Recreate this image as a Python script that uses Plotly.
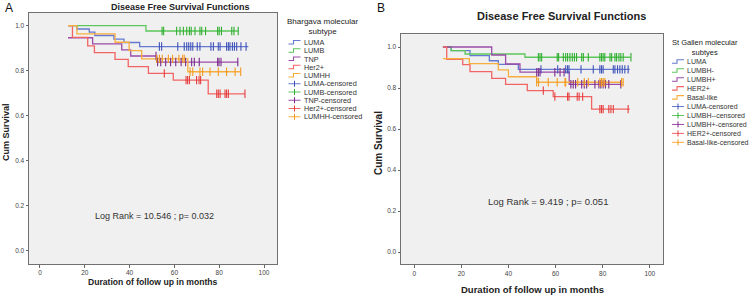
import plotly.graph_objects as go

W, H = 750, 298
FONT = "Liberation Sans, Arial, sans-serif"

# ---------------- Panel A data (Bhargava molecular subtype) ----------------
A_names = ["LUMA", "LUMB", "TNP", "Her2+", "LUMHH"]
A_title = "Bhargava molecular<br>subtype"
A_LUMA_t = [12.5, 16.5, 22.0, 24.5, 33.0, 37.5, 44.5, 93.0]
A_LUMA_s = [1.0, 0.985, 0.971, 0.956, 0.940, 0.925, 0.907, 0.907]
A_LUMA_c = [53.3, 54.3, 61.5, 64.4, 65.5, 66.4, 67.3, 68.2, 70.2, 71.4, 76.3, 77.4,
            79.6, 80.4, 83.3, 84.1, 84.8, 85.9, 86.8, 87.8, 89.7, 92.0]
A_LUMB_t = [12.5, 47.3, 88.5]
A_LUMB_s = [1.0, 0.976, 0.976]
A_LUMB_c = [54.5, 55.2, 61.0, 62.5, 64.0, 65.5, 66.7, 67.5, 69.2, 71.4, 72.2, 73.9,
            79.3, 80.0, 81.0, 85.6, 86.6, 88.5]
A_TNP_t = [12.5, 23.5, 36.5, 40.5, 52.1, 88.5]
A_TNP_s = [0.946, 0.919, 0.892, 0.865, 0.838, 0.838]
A_TNP_c = [51.8, 52.5, 53.9, 56.1, 58.3, 60.6, 63.0, 65.0, 67.7, 68.9, 71.1, 79.3,
           79.9, 80.8, 88.3]
A_HER2_t = [12.5, 14.5, 21.3, 24.3, 33.5, 39.4, 48.4, 59.5, 75.1, 91.5]
A_HER2_s = [1.0, 0.948, 0.910, 0.880, 0.850, 0.818, 0.788, 0.758, 0.697, 0.697]
A_HER2_c = [55.5, 65.2, 65.9, 66.7, 69.9, 71.0, 71.7, 78.9, 79.6, 80.4, 82.6, 83.3,
            84.1, 91.5]
A_LUMHH_t = [12.5, 16.5, 33.5, 39.8, 45.4, 66.0, 89.6]
A_LUMHH_s = [1.0, 0.963, 0.926, 0.889, 0.852, 0.795, 0.795]
A_LUMHH_c = [52.1, 53.3, 54.6, 57.3, 59.2, 62.0, 63.7, 64.4, 67.0, 68.2, 71.4, 72.6,
             75.9, 79.6, 83.3, 87.1, 89.6]
A_stat = "Log Rank = 10.546 ; p= 0.032"

# ---------------- Panel B data (St Gallen molecular subtypes) ----------------
B_names = ["LUMA", "LUMBH-", "LUMBH+", "HER2+", "Basal-like"]
B_title = "St Gallen molecular<br>subtyes"
B_LUMA_t = [12.2, 15.7, 23.7, 31.9, 35.7, 44.2, 91.5]
B_LUMA_s = [1.0, 0.982, 0.958, 0.933, 0.915, 0.891, 0.891]
B_LUMA_c = [53.8, 60.9, 64.3, 65.1, 65.7, 70.8, 76.0, 78.8, 79.5, 80.2, 84.5, 85.2,
            86.3, 87.3, 88.3, 89.4, 90.8]
B_LUMBHm_t = [12.2, 15.7, 21.6, 47.0, 91.8]
B_LUMBHm_s = [1.0, 0.982, 0.966, 0.950, 0.950]
B_LUMBHm_c = [52.7, 53.4, 54.1, 60.7, 61.3, 63.3, 64.3, 65.1, 66.1, 67.1, 68.0, 68.9,
              71.1, 71.8, 73.9, 78.8, 79.5, 80.2, 80.9, 83.1, 83.8, 85.2, 85.9, 86.9,
              87.7, 88.7, 92.0]
B_LUMBHp_t = [12.2, 32.9, 38.8, 44.9, 65.8, 88.4]
B_LUMBHp_s = [1.0, 0.961, 0.917, 0.877, 0.818, 0.818]
B_LUMBHp_c = [52.0, 52.7, 53.4, 59.7, 61.9, 63.6, 66.5, 67.5, 68.5, 71.1, 72.2, 73.2,
              76.7, 78.4, 79.2, 80.2, 81.2, 82.6, 87.7]
B_HER2_t = [12.2, 13.8, 20.6, 23.7, 32.9, 38.8, 48.0, 59.0, 75.3, 91.5]
B_HER2_s = [1.0, 0.940, 0.914, 0.880, 0.847, 0.818, 0.787, 0.758, 0.697, 0.697]
B_HER2_c = [54.8, 59.7, 65.1, 65.7, 69.2, 70.0, 71.5, 78.8, 79.5, 80.2, 82.6, 83.5,
            84.5, 90.8]
B_BASAL_t = [12.2, 23.4, 35.7, 40.0, 52.0, 88.4]
B_BASAL_s = [0.943, 0.919, 0.888, 0.855, 0.828, 0.828]
B_BASAL_c = [52.0, 52.8, 56.9, 60.7, 64.0, 64.3, 69.4, 72.2, 73.9, 78.8, 79.5, 80.2,
             80.9, 88.0, 88.7]
B_stat = "Log Rank = 9.419 ; p= 0.051"

x_ticks = [0, 20, 40, 60, 80, 100]
y_ticks = [0.0, 0.2, 0.4, 0.6, 0.8, 1.0]

LINE_COLORS = ["#6479cf", "#5cc65c", "#9b4ba8", "#f26464", "#f8ae3e"]
CENS_COLORS = ["#3e52b8", "#2fae2f", "#7b2b8c", "#e63c3c", "#f39a1e"]

A_series = [(A_LUMA_t, A_LUMA_s, A_LUMA_c), (A_LUMB_t, A_LUMB_s, A_LUMB_c),
            (A_TNP_t, A_TNP_s, A_TNP_c), (A_HER2_t, A_HER2_s, A_HER2_c),
            (A_LUMHH_t, A_LUMHH_s, A_LUMHH_c)]
B_series = [(B_LUMA_t, B_LUMA_s, B_LUMA_c), (B_LUMBHm_t, B_LUMBHm_s, B_LUMBHm_c),
            (B_LUMBHp_t, B_LUMBHp_s, B_LUMBHp_c), (B_HER2_t, B_HER2_s, B_HER2_c),
            (B_BASAL_t, B_BASAL_s, B_BASAL_c)]


def surv_at(ts, ss, t):
    val = ss[0]
    for ti, si in zip(ts, ss):
        if ti <= t:
            val = si
    return val


fig = go.Figure()


def add_panel(series, names, xa, ya):
    for i, (t, s, c) in enumerate(series):
        fig.add_trace(go.Scatter(
            x=t, y=s, mode="lines", line=dict(shape="hv", color=LINE_COLORS[i], width=1.3),
            name=names[i], showlegend=False, xaxis=xa, yaxis=ya, hoverinfo="skip"))
    for i, (t, s, c) in enumerate(series):
        fig.add_trace(go.Scatter(
            x=c, y=[surv_at(t, s, v) for v in c], mode="markers",
            marker=dict(symbol="line-ns", size=6, line=dict(width=1.1, color=CENS_COLORS[i])),
            name=names[i] + "-censored", showlegend=False, xaxis=xa, yaxis=ya,
            hoverinfo="skip"))


add_panel(A_series, A_names, "x", "y")
add_panel(B_series, B_names, "x2", "y2")


def px(x, y):
    return x / W, 1 - y / H


axis_common = dict(showgrid=False, zeroline=False, showline=True, mirror=True,
                   linecolor="#707070", linewidth=1, ticks="outside", ticklen=2.5,
                   tickcolor="#666", tickfont=dict(family=FONT, size=6.5, color="#444"))

fig.update_layout(
    width=W, height=H, autosize=False,
    margin=dict(l=0, r=0, t=0, b=0),
    paper_bgcolor="white", plot_bgcolor="#f0f0f0",
    showlegend=False,
    xaxis=dict(domain=[29 / W, 277 / W], range=[-4.9, 105.8], tickvals=x_ticks,
               anchor="y", **axis_common),
    yaxis=dict(domain=[1 - 264 / H, 1 - 13 / H], range=[-0.059, 1.056], tickvals=y_ticks,
               tickformat=".1f", anchor="x", **axis_common),
    xaxis2=dict(domain=[401 / W, 663 / W], range=[-5.6, 105.6], tickvals=x_ticks,
                anchor="y2", **axis_common),
    yaxis2=dict(domain=[1 - 264.3 / H, 1 - 34.3 / H], range=[-0.06, 1.062],
                tickvals=y_ticks, tickformat=".1f", anchor="x2", **axis_common),
)

ann = []
shapes = []


def text(x, y, s, size, bold=False, anchor="center", color="#222", angle=0):
    xx, yy = px(x, y)
    ann.append(dict(x=xx, y=yy, xref="paper", yref="paper", text=("<b>%s</b>" % s) if bold else s,
                    showarrow=False, xanchor=anchor, yanchor="middle", textangle=angle,
                    font=dict(family=FONT, size=size, color=color)))


# Panel letters
text(3, 8, "A", 12, anchor="left", color="#111")
text(375, 8, "B", 12, anchor="left", color="#111")
# Titles
text(180, 7, "Disease Free Survival Functions", 9, bold=True)
text(561, 16, "Disease Free Survival Functions", 11, bold=True)
# Axis titles
text(153, 282, "Duration of follow up in months", 8.6, bold=True)
text(532, 289, "Duration of follow up in months", 9.5, bold=True)
text(6, 132, "Cum Survival", 9, bold=True, angle=-90)
text(379, 143, "Cum Survival", 10, bold=True, angle=-90)

# Log rank statistics (data coords)
ann.append(dict(x=51.3, y=0.156, xref="x", yref="y", text=A_stat, showarrow=False,
                font=dict(family=FONT, size=9, color="#333")))
ann.append(dict(x=56.8, y=0.245, xref="x2", yref="y2", text=B_stat, showarrow=False,
                font=dict(family=FONT, size=9.5, color="#333")))


def legend(title, names, cx, ty, x0, y0, dy, tsize, isize):
    ann.append(dict(x=cx / W, y=1 - ty / H, xref="paper", yref="paper", text=title,
                    showarrow=False, xanchor="center", yanchor="top", align="center",
                    font=dict(family=FONT, size=tsize, color="#222")))
    labels = names + [n + "-censored" for n in names]
    for k, lab in enumerate(labels):
        y = y0 + k * dy
        col = LINE_COLORS[k % 5] if k < 5 else CENS_COLORS[k % 5]
        if k < 5:
            a = px(x0, y + 1.5); b = px(x0 + 5, y + 1.5); c = px(x0 + 5, y - 2); d = px(x0 + 12, y - 2)
            shapes.append(dict(type="path", xref="paper", yref="paper",
                               path="M %f,%f L %f,%f L %f,%f L %f,%f" % (a + b + c + d),
                               line=dict(color=LINE_COLORS[k], width=1.1)))
        else:
            a = px(x0, y); b = px(x0 + 12, y)
            shapes.append(dict(type="line", xref="paper", yref="paper", x0=a[0], y0=a[1],
                               x1=b[0], y1=b[1], line=dict(color=LINE_COLORS[k % 5], width=1)))
            a = px(x0 + 6, y - 3); b = px(x0 + 6, y + 3)
            shapes.append(dict(type="line", xref="paper", yref="paper", x0=a[0], y0=a[1],
                               x1=b[0], y1=b[1], line=dict(color=col, width=1)))
        text(x0 + 13, y, lab, isize, anchor="left", color="#333")


legend(A_title, A_names, 322, 15, 288.5, 42.5, 8.25, 8, 7.3)
legend(B_title, B_names, 705, 36, 672, 61.8, 8.95, 7.5, 7.0)

fig.update_layout(annotations=ann, shapes=shapes)
fig.write_html("out.html", config={"displayModeBar": False},
               post_script="document.body.style.margin='0';document.body.style.padding='0';")
